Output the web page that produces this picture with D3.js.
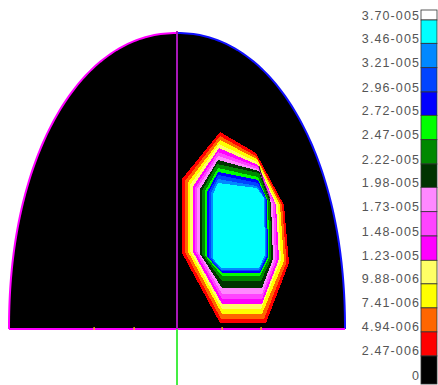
<!DOCTYPE html>
<html>
<head>
<meta charset="utf-8">
<script src="https://cdn.jsdelivr.net/npm/d3@7"></script>
<style>
  html, body { margin: 0; padding: 0; background: #fff; overflow: hidden; }
</style>
</head>
<body>
<div id="chart"></div>
<script>
// legend, top to bottom
const legendLabels = ["3.70-005", "3.46-005", "3.21-005", "2.96-005", "2.72-005", "2.47-005", "2.22-005", "1.98-005",
  "1.73-005", "1.48-005", "1.23-005", "9.88-006", "7.41-006", "4.94-006", "2.47-006", "0"];
const legendValues = [3.70e-5, 3.46e-5, 3.21e-5, 2.96e-5, 2.72e-5, 2.47e-5, 2.22e-5, 1.98e-5,
  1.73e-5, 1.48e-5, 1.23e-5, 9.88e-6, 7.41e-6, 4.94e-6, 2.47e-6, 0];
const bandColors = ["#ffffff", "#00ffff", "#0088ff", "#0044ff", "#0000ff", "#00ff00", "#008800", "#003300",
  "#ff88ff", "#ff44ff", "#ff00ff", "#ffff66", "#ffff00", "#ff6600", "#ff0000", "#000000"];

// contour rings, outer (2.47e-6) to inner (3.46e-5), in dome units (x from axis, y from base)
const contourRings = [
  [[43,197],[79,176],[107,124],[112,66],[89,6],[43,6],[5,76],[5,150]],
  [[43,193],[79,173],[105,124],[109.5,67],[87,10],[44,10],[8,77],[8,148]],
  [[43,189],[80,170],[103,124],[107,68],[85,15],[45,15],[10.5,78],[10.5,146]],
  [[42,185],[80,167],[101,124],[104,69],[84,20],[45,20],[13,78],[13,144]],
  [[42,181],[81,164],[99,124],[102,70],[85,25],[45,25],[15.5,78],[15.5,142]],
  [[41,177],[81,162],[98,125],[100,70],[85,30],[45,30],[18,78],[18,141]],
  [[41,173],[81,160],[96,125],[98,70],[85,35],[45,35],[20,78],[20,140]],
  [[41,169],[82,158],[94,126],[96,70],[85,41],[45,41],[22.5,76],[22.5,139]],
  [[40,165],[82,156],[93,127],[94.5,71],[84,48],[45,48],[25,75],[25,138]],
  [[41,161],[81,152],[91,128],[92.5,72],[83,53],[45,53],[27.5,74],[27.5,137]],
  [[41,157],[81,149],[90,129],[91,72],[83,56],[45,56],[29.5,73],[29.5,136]],
  [[41,154],[81,146],[89,130],[90,73],[83,58],[44,58],[31.5,72],[31.5,136]],
  [[41,150],[80,143],[88,130],[89,73],[82,59.5],[44,59.5],[33.5,72],[33.5,135]],
  [[41,146],[80,141],[87,131],[88,74],[82,61],[44,61],[35.5,71],[35.5,134]]
];
const meshLine = [[82,163],[86,148],[90,138],[93,130]];
const baseTicks = [-83, -43, 45, 84];

const W = 438, H = 385;
const svg = d3.select("#chart").append("svg").attr("width", W).attr("height", H);

const x = d3.scaleLinear().domain([-168, 168]).range([9, 345]);
const y = d3.scaleLinear().domain([0, 296]).range([329, 33]);

// dome outline (rounded half)
const n = 2.1;
const arcPt = t => {
  const c = Math.cos(t), s = Math.sin(t);
  return [168 * Math.sign(c) * Math.pow(Math.abs(c), 2 / n), 296 * Math.pow(Math.abs(s), 2 / n)];
};
const line = d3.line().x(d => x(d[0])).y(d => y(d[1]));
const full = d3.range(0, 181).map(a => arcPt(a * Math.PI / 180));
svg.append("path").attr("d", line(full) + "Z").attr("fill", "#000");

const blob = svg.append("g").attr("shape-rendering", "crispEdges");
contourRings.forEach((ring, i) => {
  blob.append("path")
    .attr("d", line(ring) + "Z")
    .attr("fill", bandColors[14 - i]);
});
svg.append("path").attr("d", line(meshLine)).attr("fill", "none")
  .attr("stroke", "#1a1a1a").attr("stroke-width", 1);

const leftArc = d3.range(90, 181).map(a => arcPt(a * Math.PI / 180));
const rightArc = d3.range(0, 91).map(a => arcPt(a * Math.PI / 180));
svg.append("path").attr("d", line(leftArc)).attr("fill", "none")
  .attr("stroke", "#ff00ff").attr("stroke-width", 2);
svg.append("path").attr("d", line(rightArc)).attr("fill", "none")
  .attr("stroke", "#1010ff").attr("stroke-width", 2);
svg.append("line").attr("x1", x(-168)).attr("x2", x(168)).attr("y1", y(0)).attr("y2", y(0))
  .attr("stroke", "#ff00ff").attr("stroke-width", 2);

baseTicks.forEach(t => {
  svg.append("rect").attr("x", x(t) - 0.5).attr("y", y(0) - 2).attr("width", 1.2).attr("height", 3)
    .attr("fill", "#ffd000");
});

// symmetry axis
svg.append("line").attr("x1", x(0)).attr("x2", x(0)).attr("y1", y(296) - 2).attr("y2", y(0))
  .attr("stroke", "#a818b8").attr("stroke-width", 2);
svg.append("line").attr("x1", x(0)).attr("x2", x(0)).attr("y1", y(0)).attr("y2", H)
  .attr("stroke", "#44ee44").attr("stroke-width", 2);

// legend
const ly = d3.scaleLinear().domain([0, 3.70e-5]).range([380, 20]);
const lg = svg.append("g");
legendValues.forEach((v, i) => {
  const bottom = i === legendValues.length - 1 ? 384 : ly(v);
  const top = i === 0 ? 10 : ly(legendValues[i - 1]);
  lg.append("rect").attr("x", 421).attr("y", top).attr("width", 16).attr("height", bottom - top)
    .attr("fill", bandColors[i]).attr("stroke", "#333").attr("stroke-width", 0.8);
  lg.append("text").attr("x", 420).attr("y", ly(v) - 0.5)
    .attr("text-anchor", "end")
    .attr("font-family", "'Liberation Sans', Arial, sans-serif")
    .attr("font-size", 12.5).attr("letter-spacing", 1.1)
    .attr("fill", "#555")
    .text(legendLabels[i]);
});
</script>
</body>
</html>
